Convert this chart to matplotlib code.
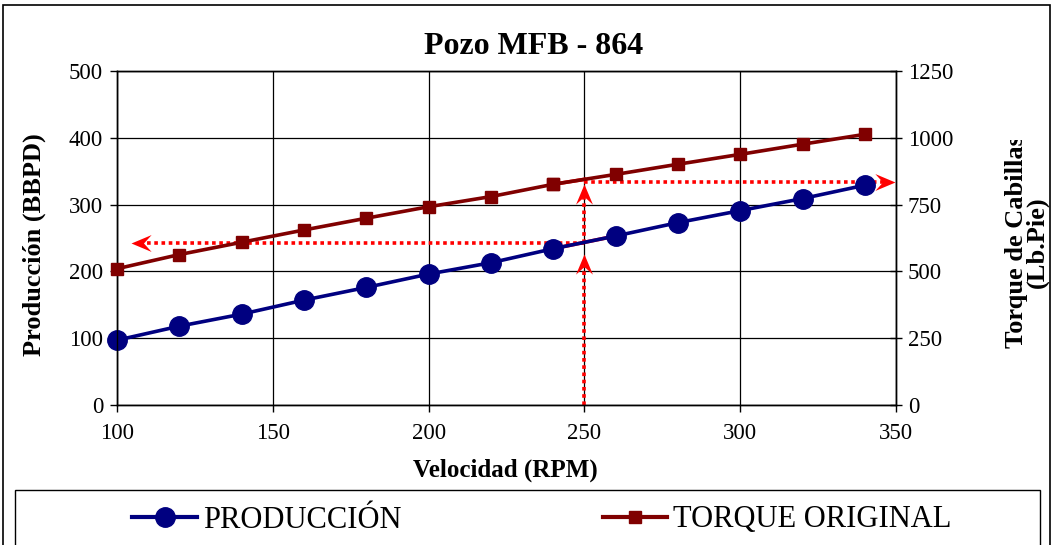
import numpy as np
import matplotlib
matplotlib.use("Agg")
import matplotlib.pyplot as plt
from matplotlib.patches import Rectangle
from matplotlib.lines import Line2D
from matplotlib.path import Path
from matplotlib.markers import MarkerStyle
from matplotlib.transforms import Bbox, TransformedBbox, Affine2D

plt.rcParams['font.family'] = ['Liberation Serif', 'DejaVu Serif']

# ---- data ----
rpm = [100, 120, 140, 160, 180, 200, 220, 240, 260, 280, 300, 320, 340]
produccion = [97, 118, 136, 157, 176, 196, 213, 234, 253, 273, 291, 309, 329]
torque = [510, 563, 609, 655, 699, 742, 780, 826, 863, 901, 938, 976, 1013]

rpm_sel = 250
prod_sel = 243
torque_sel = 835
arrow_left_end = 104.5
arrow_right_end = 349.7

title = "Pozo MFB - 864"
xlabel = "Velocidad (RPM)"
ylabel_left = "Producción (BBPD)"
ylabel_right = "Torque de Cabillas\n(Lb.Pie)"
legend_labels = ["PRODUCCIÓN", "TORQUE ORIGINAL"]

blue = "#000080"
dred = "#800000"
red = "#FF0000"

W, H = 1053, 545
fig = plt.figure(figsize=(W / 100, H / 100), dpi=100)

def fx(px):
    return px / W

def fy(py):
    return 1 - py / H

ax = fig.add_axes([fx(117), fy(405), fx(896) - fx(117), fy(71) - fy(405)])
ax2 = ax.twinx()

ax.set_xlim(100, 350)
ax.set_ylim(0, 500)
ax2.set_ylim(0, 1250)
ax.set_xticks(range(100, 351, 50))
ax.set_yticks(range(0, 501, 100))
ax2.set_yticks(range(0, 1251, 250))
ax.grid(True, color='black', linewidth=0.9)
ax.set_axisbelow(True)

for a in (ax, ax2):
    for s in a.spines.values():
        s.set_color('black')
        s.set_linewidth(1.0)

ax.tick_params(axis='both', direction='out', length=5, width=1, labelsize=16.5, pad=5)
ax.tick_params(axis='x', pad=8)
ax2.tick_params(axis='y', direction='inout', length=9, width=1, labelsize=16.5, pad=4)

# highlighted segments near the selected rpm
t_at_sel = np.interp(rpm_sel, rpm, torque)
i240 = rpm.index(240)
ax.plot([rpm[i240], rpm[i240 + 1]], [produccion[i240], produccion[i240 + 1]],
        color=red, lw=2.6, zorder=3)

# dotted guide lines (left-axis units)
tl = torque_sel / 2.5
dot = dict(color=red, lw=2.6, ls=(0, (1, 1)), zorder=2.5)
ax.plot([rpm_sel, rpm_sel], [0, prod_sel - 28], **dot)
ax.plot([rpm_sel, rpm_sel], [prod_sel, tl - 12], **dot)
ax.plot([rpm_sel, arrow_left_end + 3], [prod_sel, prod_sel], **dot)
ax.plot([rpm_sel, arrow_right_end - 3], [tl, tl], **dot)

# stealth arrow heads (tip at origin, pointing +x)
stealth = Path([(0, 0), (-1, 0.42), (-0.62, 0), (-1, -0.42), (0, 0)],
               [Path.MOVETO, Path.LINETO, Path.LINETO, Path.LINETO, Path.CLOSEPOLY])

def head(x, y, angle):
    m = MarkerStyle(stealth, transform=Affine2D().rotate_deg(angle))
    ax.plot([x], [y], marker=m, markersize=29, color=red, markeredgewidth=0,
            linestyle='none', zorder=4, clip_on=False)

head(rpm_sel, prod_sel - 17, 90)
head(rpm_sel, tl - 3, 90)
head(arrow_left_end, prod_sel, 180)
head(arrow_right_end, tl, 0)

# production series
ax.plot(rpm, produccion, color=blue, lw=2.6, marker='o', markersize=14,
        markerfacecolor=blue, markeredgecolor=blue, zorder=5, clip_on=False)

# torque series
ax2.plot(rpm, torque, color=dred, lw=2.6, marker='s', markersize=9,
         markerfacecolor=dred, markeredgecolor=dred, zorder=5, clip_on=False)
ax2.plot([rpm[i240], rpm_sel], [torque[i240], t_at_sel], color=red, lw=2.6, zorder=4)
ax2.plot([rpm[i240]], [torque[i240]], marker='s', markersize=9, color=dred, zorder=6)

# texts
fig.text(fx(534), fy(46), title, ha='center', va='center', fontsize=23, fontweight='bold')
fig.text(fx(505), fy(470), xlabel, ha='center', va='center', fontsize=18, fontweight='bold')
fig.text(fx(34), fy(245), ylabel_left, ha='center', va='center', rotation=90,
         fontsize=19, fontweight='bold')
rt = fig.text(fx(1027), fy(242), ylabel_right, ha='center', va='center', rotation=90,
              fontsize=19, fontweight='bold', multialignment='center', linespacing=0.82)
clipbox = TransformedBbox(Bbox([[0, 0], [1, fy(140)]]), fig.transFigure)
rt.set_clip_box(clipbox)
rt.set_clip_on(True)

# outer border
fig.patches.append(Rectangle((fx(3), -0.1), fx(1050) - fx(3), fy(5) + 0.1, transform=fig.transFigure,
                             fill=False, edgecolor='black', lw=1.2, zorder=0))
# legend box
fig.patches.append(Rectangle((fx(15), -0.1), fx(1040) - fx(15), fy(490) + 0.1, transform=fig.transFigure,
                             fill=False, edgecolor='black', lw=1.0, zorder=0))

handles = [Line2D([], [], color=blue, lw=3, marker='o', markersize=14),
           Line2D([], [], color=dred, lw=3, marker='s', markersize=9)]
fig.legend(handles, legend_labels, ncol=2, loc='center', bbox_to_anchor=(fx(542), fy(520)),
           frameon=False, fontsize=22, handlelength=2.1, handletextpad=0.2, columnspacing=6.6)

fig.savefig("out.png", dpi=100)
